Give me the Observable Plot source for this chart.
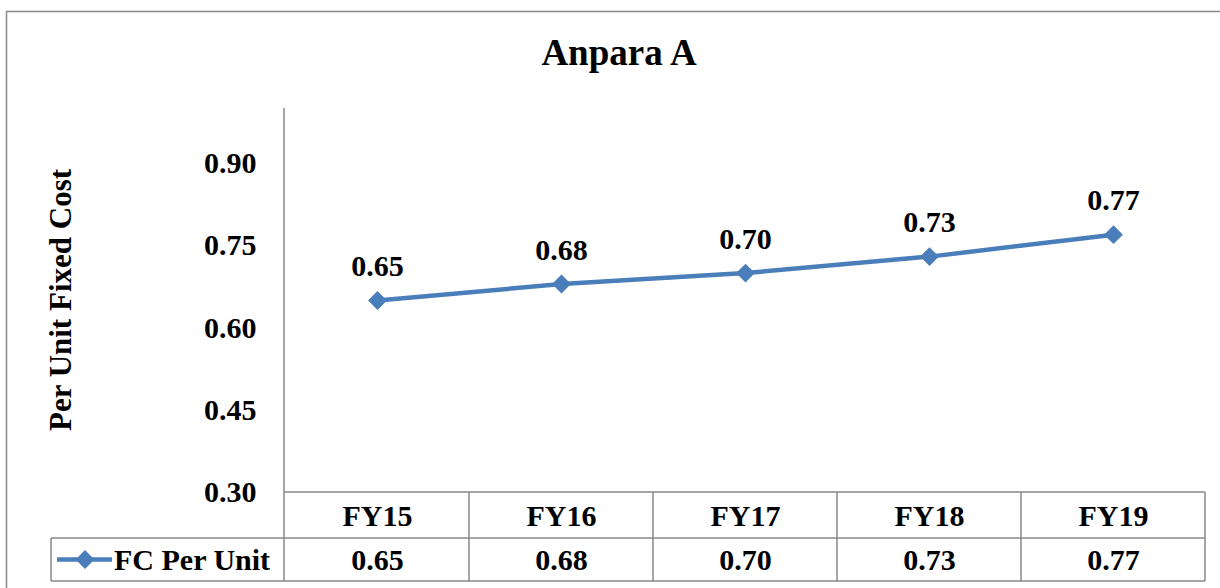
<!DOCTYPE html>
<html>
<head>
<meta charset="utf-8">
<script src="https://cdn.jsdelivr.net/npm/d3@7"></script>
<script src="https://cdn.jsdelivr.net/npm/@observablehq/plot@0.6"></script>
<style>
  html, body { margin: 0; padding: 0; background: #fff; }
  #chart svg { display: block; }
</style>
</head>
<body>
<div id="chart"></div>
<script>
const title = "Anpara A";
const yLabel = "Per Unit Fixed Cost";
const seriesName = "FC Per Unit";
const years = ["FY15", "FY16", "FY17", "FY18", "FY19"];
const values = [0.65, 0.68, 0.70, 0.73, 0.77];
const yTicks = [0.30, 0.45, 0.60, 0.75, 0.90];

const data = years.map((y, i) => ({year: y, value: values[i]}));

const W = 1220, H = 588;
const FONT = "'Liberation Serif', 'Times New Roman', serif";
const BLUE = "#4a7ebb";
const GRID = "#888888";
const FS = 30;

const plot = Plot.plot({
  width: W,
  height: H,
  marginTop: 108,
  marginBottom: 96,
  marginLeft: 284,
  marginRight: 15,
  style: {fontFamily: FONT, fontWeight: "bold", fontSize: FS + "px", color: "#000", background: "#fff"},
  x: {type: "band", domain: years, padding: 0, axis: null},
  y: {domain: [0.30, 1.00], ticks: yTicks, tickFormat: d => d.toFixed(2), label: null},
  marks: [
    Plot.axisY({ticks: yTicks, tickFormat: d => d.toFixed(2), tickSize: 0, tickPadding: 28, fontSize: FS, fontWeight: "bold", label: null}),
    Plot.line(data, {x: "year", y: "value", stroke: BLUE, strokeWidth: 4.5}),
    Plot.dot(data, {x: "year", y: "value", symbol: "diamond2", r: 8.5, fill: BLUE, stroke: null}),
    Plot.text(data, {x: "year", y: "value", text: d => d.value.toFixed(2), dy: -34, fontSize: FS, fontWeight: "bold", fill: "#000"}),
    Plot.text(data, {x: "year", text: "year", frameAnchor: "bottom", lineAnchor: "middle", dy: 24, fontSize: FS, fontWeight: "bold", fill: "#000"}),
    Plot.text(data, {x: "year", text: d => d.value.toFixed(2), frameAnchor: "bottom", lineAnchor: "middle", dy: 68, fontSize: FS, fontWeight: "bold", fill: "#000"})
  ]
});

// Add table grid, axis line, legend cell, titles using the plot's own scales
const svg = d3.select(plot);
const xs = plot.scale("x");
const ys = plot.scale("y");
const [yBottom, yTop] = ys.range;
const bw = xs.bandwidth;
const xLeft = xs.range[0];
const xRight = xs.range[1];
const row1 = yBottom;        // top of header row
const row2 = yBottom + 46;   // divider between header and value row
const row3 = yBottom + 89;   // bottom of table
const legendLeft = 51;

const g = svg.insert("g", ":first-child");
// outer chart border
g.append("rect").attr("x", 6.5).attr("y", 11.5).attr("width", W + 20).attr("height", H + 20)
  .attr("fill", "none").attr("stroke", GRID).attr("stroke-width", 1.5);

const lines = svg.append("g").attr("stroke", GRID).attr("stroke-width", 1.5).attr("fill", "none");
// y axis line
lines.append("line").attr("x1", xLeft).attr("x2", xLeft).attr("y1", yTop).attr("y2", row3);
// horizontal table lines
lines.append("line").attr("x1", xLeft).attr("x2", xRight).attr("y1", row1).attr("y2", row1);
lines.append("line").attr("x1", legendLeft).attr("x2", xRight).attr("y1", row2).attr("y2", row2);
lines.append("line").attr("x1", legendLeft).attr("x2", xRight).attr("y1", row3).attr("y2", row3);
// vertical lines
years.forEach(y => {
  const x1 = xs.apply(y) + bw;
  lines.append("line").attr("x1", x1).attr("x2", x1).attr("y1", row1).attr("y2", row3);
});
lines.append("line").attr("x1", legendLeft).attr("x2", legendLeft).attr("y1", row2).attr("y2", row3);

// legend key in table
const ly = (row2 + row3) / 2;
const lg = svg.append("g");
lg.append("line").attr("x1", 57).attr("x2", 112).attr("y1", ly).attr("y2", ly)
  .attr("stroke", BLUE).attr("stroke-width", 4.5);
lg.append("path").attr("d", d3.symbol(d3.symbolDiamond2, Math.PI * 8.5 * 8.5)())
  .attr("transform", `translate(85,${ly})`).attr("fill", BLUE);
lg.append("text").attr("x", 114).attr("y", ly).attr("dy", "0.35em").attr("text-anchor", "start")
  .attr("font-family", FONT).attr("font-weight", "bold").attr("font-size", FS).attr("fill", "#000")
  .text(seriesName);

// title
svg.append("text").attr("x", 619).attr("y", 65).attr("text-anchor", "middle")
  .attr("font-family", FONT).attr("font-weight", "bold").attr("font-size", 37).attr("fill", "#000")
  .text(title);

// y axis label
svg.append("text").attr("transform", `translate(60,300) rotate(-90)`)
  .attr("text-anchor", "middle").attr("dy", "0.35em")
  .attr("font-family", FONT).attr("font-weight", "bold").attr("font-size", 31).attr("fill", "#000")
  .text(yLabel);

document.getElementById("chart").appendChild(plot);
</script>
</body>
</html>
